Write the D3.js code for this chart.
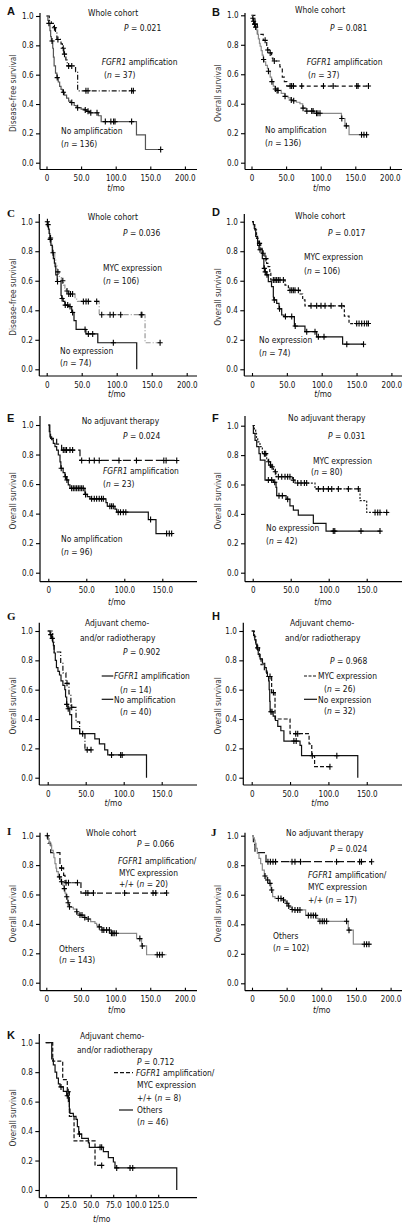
<!DOCTYPE html>
<html><head><meta charset="utf-8">
<script src="https://cdn.jsdelivr.net/npm/d3@7"></script>
<style>
html,body{margin:0;padding:0;background:#fff;}
svg{display:block;}
text{font-family:"DejaVu Sans Condensed","DejaVu Sans",sans-serif;font-stretch:condensed;fill:#111;}
</style></head><body>
<svg id="c" width="410" height="1227"></svg>
<script>
// ---------------- DATA ----------------
const yTickValues = [0, 0.2, 0.4, 0.6, 0.8, 1.0];
const xTicks200 = [0, 50, 100, 150, 200];
const xTicks150 = [0, 50, 100, 150];
const xTicks125 = [0, 25, 50, 75, 100, 125];

// Each step array: [time (mo), survival from that time on]; last entry = end of follow-up
const A_amp = [[0,1],[4,0.97],[7,0.95],[10,0.92],[13,0.89],[15,0.84],[21,0.81],[23,0.78],[25,0.74],[28,0.70],[30,0.66],[42,0.62],[45,0.49],[126,0.49]];
const A_amp_cens = [11.5,16.5,24.2,26,32,36.5,57,60,123,125.5];
const A_no = [[0,1],[2,0.97],[3,0.95],[5,0.90],[6,0.86],[7,0.83],[9,0.78],[10,0.72],[11,0.66],[13,0.61],[15,0.58],[17,0.55],[19,0.52],[21,0.50],[23,0.48],[26,0.46],[29,0.44],[32,0.42],[35,0.41],[40,0.39],[43,0.375],[50,0.365],[55,0.36],[58,0.35],[62,0.34],[75,0.32],[79,0.28],[130,0.19],[143,0.09],[165,0.09]];
const A_no_cens = [3.5,8,15.5,24.5,36.5,45,56,60,64,73,85,93,97,99,123,165];

const B_amp = [[0,1],[5,0.95],[8.5,0.87],[17,0.83],[22,0.78],[23,0.765],[26,0.745],[29,0.71],[31,0.69],[41,0.65],[44.5,0.58],[47.5,0.55],[51,0.52],[169,0.52]];
const B_amp_cens = [19.7,23.5,27,33,55.8,58,60.6,72.6,104,118,152,154,169];
const B_no = [[0,1],[1.5,0.98],[2.5,0.96],[4,0.94],[6,0.92],[7.5,0.90],[9,0.87],[10,0.84],[11.5,0.81],[12.5,0.79],[14,0.76],[15.5,0.73],[17,0.70],[18,0.685],[20.5,0.66],[23,0.64],[24.5,0.62],[27,0.58],[29,0.55],[31.5,0.52],[34,0.50],[37,0.49],[43,0.47],[48,0.45],[53,0.44],[57,0.425],[60,0.42],[65,0.41],[70,0.40],[74,0.37],[79,0.35],[91,0.335],[130,0.30],[135,0.25],[141,0.19],[169,0.19]];
const B_no_cens = [2,3,4.5,5,6,17.5,24.5,29.5,34.5,37,38.5,48.5,57.5,61,74.5,80,87,89,94,96,99,130.5,137,159,162.5,166.3];

const C_myc = [[0,1],[1.5,0.98],[3,0.95],[4,0.92],[5,0.89],[6,0.86],[7.5,0.83],[8.5,0.80],[10,0.78],[11.5,0.74],[13,0.70],[15,0.66],[18,0.63],[21,0.60],[24,0.57],[26,0.55],[28,0.53],[31,0.51],[40.5,0.475],[44,0.46],[75,0.37],[140.5,0.18],[162,0.18]];
const C_myc_cens = [1,2,5.5,16,23,29,31.5,34,37,52.4,56.2,59.5,71.4,78.6,90.5,95.2,105.7,135,136,162];
const C_no = [[0,1],[1,0.97],[2.5,0.95],[3.5,0.92],[4.5,0.88],[6,0.84],[8,0.79],[9.5,0.75],[11,0.72],[12,0.695],[13,0.64],[15,0.595],[20.5,0.50],[21.5,0.48],[23.5,0.46],[26,0.435],[31,0.425],[35.7,0.385],[39,0.33],[42,0.27],[56,0.24],[73,0.18],[128.6,0]];
const C_no_cens = [5,9,15.5,22,26.5,30,33.3,37,54.8,59.5,65.7,95.2];

const D_myc = [[0,1],[2,0.98],[4,0.944],[6.5,0.887],[9,0.853],[12.5,0.82],[14.5,0.786],[18.5,0.75],[21,0.718],[23,0.695],[25.5,0.65],[27,0.605],[47.4,0.57],[52.2,0.535],[69,0.51],[72.7,0.47],[76,0.43],[132.5,0.36],[139.2,0.31],[167,0.31]];
const D_myc_cens = [10.8,16,20,30.6,33,35.4,37.8,40.2,45,54.5,57,59.3,61.7,66.5,84.7,92.8,99,104.8,113.4,128.7,150.2,153.6,157.4,161.2,164.6,167];
const D_no = [[0,1],[2,0.98],[3.3,0.955],[5.3,0.90],[8,0.84],[10,0.81],[14.8,0.75],[17,0.684],[18.5,0.66],[20.5,0.64],[23.4,0.594],[28,0.56],[30.6,0.49],[31.2,0.47],[35.4,0.447],[38.8,0.41],[42.6,0.368],[46,0.357],[60.8,0.293],[76,0.255],[92.8,0.22],[130,0.17],[160,0.17]];
const D_no_cens = [11.5,17.7,19,21.5,32,39.5,48,57,62,78.5,90.4,95.2,103.3,136,160];

const E_amp = [[0,1],[2,0.955],[3,0.91],[11,0.87],[17.5,0.83],[41.7,0.76],[169,0.76]];
const E_amp_cens = [19.7,22,24,28.5,32,43.9,54,60.5,67,93,116,152,155,169];
const E_no = [[0,1],[1.3,0.955],[2.2,0.92],[4.4,0.90],[6.6,0.876],[8.8,0.853],[11,0.83],[13.2,0.797],[15.4,0.75],[16.5,0.707],[19.5,0.677],[21.9,0.65],[24,0.628],[26.3,0.594],[28.5,0.571],[48.2,0.53],[51.3,0.515],[54.8,0.50],[75.9,0.475],[77.6,0.45],[87.7,0.43],[89.9,0.41],[131.6,0.36],[141.7,0.265],[164,0.265]];
const E_no_cens = [17,22.5,24.5,30.7,32.9,35.1,37.3,39.5,41.7,43.9,46,49,57,60.5,63.6,67,70,72.4,81,83.3,85.5,92,95,98.7,102,134.6,155.7,159.2,162.3];

const F_myc = [[0,1],[2.2,0.97],[3.9,0.948],[5,0.92],[6.6,0.89],[9.6,0.857],[12.7,0.81],[18.4,0.766],[20.6,0.755],[22.8,0.732],[25,0.72],[27.2,0.698],[29.4,0.687],[30.7,0.653],[52.2,0.63],[55.7,0.61],[82,0.57],[141.2,0.49],[150,0.41],[180.7,0.41]];
const F_myc_cens = [15.4,17.1,21,23.5,25.5,29.8,33.8,38.2,42.5,46,49,53.5,59.2,63.6,68,71,86.4,93,99.6,104,112.7,125.9,139,161,164.5,167.5,176.3];
const F_no = [[0,1],[0.9,0.948],[3.1,0.90],[5.3,0.857],[8.3,0.81],[10,0.766],[16.2,0.63],[27.2,0.615],[30.7,0.58],[31.6,0.524],[43.9,0.50],[49,0.454],[53.5,0.426],[60,0.392],[79.8,0.336],[96.5,0.283],[168,0.283]];
const F_no_cens = [20.6,25,29,34.6,39,46,106,108,142.5,167.5];

const G_amp = [[0,1],[6.6,0.93],[8.3,0.857],[17.1,0.786],[20,0.714],[24,0.643],[28,0.571],[30.5,0.48],[37.3,0.38],[42,0.30],[49,0.19],[57,0.19]];
const G_amp_cens = [25.4,31.6,52,57];
const G_no = [[0,1],[3,0.975],[5,0.95],[6.5,0.925],[7.5,0.90],[8.5,0.85],[10,0.80],[11.5,0.75],[13.5,0.725],[15.5,0.70],[17.5,0.66],[20,0.63],[22.5,0.60],[23.5,0.55],[25,0.50],[26.5,0.47],[29,0.43],[31.5,0.335],[42,0.30],[62,0.265],[68,0.23],[75,0.19],[79,0.155],[130,0]];
const G_no_cens = [4,6,25,27,46,84,96,98];

const H_myc = [[0,1],[3.5,0.96],[5.2,0.92],[6.5,0.885],[10,0.81],[12.2,0.77],[16.5,0.73],[19.6,0.69],[26,0.58],[30.4,0.40],[50,0.30],[74.8,0.23],[78.3,0.15],[82,0.075],[102,0.075]];
const H_myc_cens = [7.8,23.9,28.3,57.4,60,79,102];
const H_no = [[0,1],[2.5,0.97],[4,0.94],[5.5,0.91],[7,0.875],[8.5,0.84],[11,0.81],[14,0.78],[17,0.75],[19,0.72],[20.5,0.69],[22,0.66],[22.8,0.60],[23.5,0.52],[24,0.45],[28,0.42],[31,0.39],[34,0.35],[38,0.32],[42,0.25],[63,0.22],[65,0.15],[138.3,0]];
const H_no_cens = [25,26.5,55,58,111];

const I_pos = [[0,1],[2.5,0.95],[6.3,0.885],[19.7,0.78],[25,0.73],[27,0.68],[50,0.61],[173.6,0.61]];
const I_pos_cens = [22,28.5,32,45,57,60,68,113,154,158,173.6];
const I_oth = [[0,1],[2.9,0.98],[4,0.96],[5.3,0.936],[7.7,0.90],[10,0.88],[11,0.85],[12.5,0.81],[14,0.78],[14.9,0.755],[17.3,0.72],[20.7,0.687],[23.6,0.664],[25.5,0.64],[27,0.61],[28.4,0.585],[30.8,0.544],[32.7,0.517],[35.6,0.512],[39,0.50],[43.8,0.483],[44.7,0.47],[48.6,0.46],[53.4,0.444],[57.2,0.433],[64,0.415],[70.2,0.404],[72.6,0.392],[75,0.38],[79.8,0.358],[91.8,0.336],[130.3,0.30],[137.5,0.25],[144.7,0.19],[173.6,0.19]];
const I_oth_cens = [1.5,19,22,26,29.5,31.5,33.5,44,48.6,51.5,55.5,60.5,76.5,80.5,83,87,91,94,96,98,101,135,138.5,160,163.5,167.3];

const J_pos = [[0,1],[2,0.94],[4.3,0.885],[20.2,0.824],[172.6,0.824]];
const J_pos_cens = [23,26.5,30.3,34,57.7,62,70,122,155.3,158,172.6];
const J_oth = [[0,1],[2,0.985],[3.4,0.97],[4.3,0.948],[5.8,0.914],[7.7,0.88],[10.1,0.846],[12.5,0.81],[14.9,0.767],[17.8,0.727],[20.2,0.70],[25,0.677],[27.4,0.632],[29.8,0.587],[33.2,0.575],[45.2,0.564],[47.6,0.553],[50,0.542],[52.4,0.524],[54.8,0.515],[57.2,0.50],[59.6,0.497],[77.4,0.46],[93.3,0.44],[95.7,0.42],[138.9,0.36],[146.2,0.265],[172.6,0.265]];
const J_oth_cens = [18.75,22.6,26,28.4,38,41.8,45.5,50.5,53,58,62,65.9,69.2,81.3,85.1,88.5,91.8,98,101.4,104.3,107.7,136.5,140,162,165.4,168.8];

const K_pos = [[0,1],[7.8,0.875],[18.9,0.75],[24,0.667],[26.3,0.50],[31.5,0.333],[54.8,0.167],[62.2,0.167]];
const K_pos_cens = [25,62.2];
const K_oth = [[0,1],[6.7,0.89],[8.5,0.85],[10.4,0.80],[12.2,0.76],[14.1,0.72],[15.9,0.70],[19.6,0.67],[23.3,0.64],[25.2,0.60],[26.3,0.55],[27,0.52],[30.7,0.50],[33.7,0.48],[35.2,0.43],[36.7,0.38],[40,0.35],[47.4,0.32],[48.5,0.29],[64.1,0.26],[69.6,0.22],[75.2,0.19],[77,0.15],[145.6,0]];
const K_oth_cens = [17,24,37.5,60.4,62.2,78.9,93.7,96.7];

// ---------------- LAYOUT ----------------
const GRAY = "#8a8a8a";
const panels = [
 {L:"A",lx:7,ly:15,ax:40,t0:46.5,ppu:0.692,s1:16,s0:162.7,ay:169.5,top:13,right:197,ticks:xTicks200,yt:"Disease-free survival",ytx:12.5,tx:116,ty:191,
  series:[{d:A_amp,c:A_amp_cens,col:"#111",dash:"5,2,1,2"},{d:A_no,c:A_no_cens,col:"#555",dash:null}],
  texts:[[88,15.5,[["Whole cohort"]]],[124,31,[["P",1],[" = 0.021"]]],[101.7,65,[["FGFR1",1],[" amplification"]]],[104,78,[["("],["n",1],[" = 37)"]]],[61,134,[["No amplification"]]],[61,147,[["("],["n",1],[" = 136)"]]]]},
 {L:"B",lx:212,ly:16,ax:245,t0:251.5,ppu:0.692,s1:15.3,s0:162.7,ay:169.5,top:13,right:402,ticks:xTicks200,yt:"Overall survival",ytx:217.5,tx:321.7,ty:191,
  series:[{d:B_amp,c:B_amp_cens,col:"#111",dash:"4,3"},{d:B_no,c:B_no_cens,col:GRAY,dash:null}],
  texts:[[295,13,[["Whole cohort"]]],[330,31,[["P",1],[" = 0.081"]]],[306.7,65,[["FGFR1",1],[" amplification"]]],[308,78,[["("],["n",1],[" = 37)"]]],[265,132.5,[["No amplification"]]],[265,146,[["("],["n",1],[" = 136)"]]]]},
 {L:"C",serif:1,lx:7,ly:216.7,ax:39.3,t0:46.7,ppu:0.7,s1:221.7,s0:369.3,ay:376,top:214,right:197,ticks:xTicks200,yt:"Disease-free survival",ytx:12.5,tx:116.7,ty:397,
  series:[{d:C_myc,c:C_myc_cens,col:"#999",dash:"5,2,1,2"},{d:C_no,c:C_no_cens,col:"#111",dash:null}],
  texts:[[87.7,219.5,[["Whole cohort"]]],[123,236,[["P",1],[" = 0.036"]]],[103,271,[["MYC expression"]]],[103,283.5,[["("],["n",1],[" = 106)"]]],[60,353.5,[["No expression"]]],[60,366,[["("],["n",1],[" = 74)"]]]]},
 {L:"D",lx:212,ly:216,ax:244.3,t0:252,ppu:0.697,s1:221.7,s0:369.3,ay:376,top:214,right:402,ticks:xTicks200,yt:"Overall survival",ytx:217.5,tx:323,ty:397,
  series:[{d:D_myc,c:D_myc_cens,col:"#111",dash:"3,2"},{d:D_no,c:D_no_cens,col:"#111",dash:null}],
  texts:[[295,218.5,[["Whole cohort"]]],[328,236,[["P",1],[" = 0.017"]]],[304,260,[["MYC expression"]]],[304,273.5,[["("],["n",1],[" = 106)"]]],[259,343,[["No expression"]]],[259,356,[["("],["n",1],[" = 74)"]]]]},
 {L:"E",lx:7,ly:422,ax:40,t0:48.3,ppu:0.76,s1:425,s0:572.7,ay:581.7,top:416,right:197,ticks:xTicks150,yt:"Overall survival",ytx:12.5,tx:116.7,ty:605,
  series:[{d:E_amp,c:E_amp_cens,col:"#111",dash:"8,3"},{d:E_no,c:E_no_cens,col:"#111",dash:null}],
  texts:[[81.7,423.5,[["No adjuvant therapy"]]],[123,439,[["P",1],[" = 0.024"]]],[103,474,[["FGFR1",1],[" amplification"]]],[103,487,[["("],["n",1],[" = 23)"]]],[61,542,[["No amplification"]]],[61,555,[["("],["n",1],[" = 96)"]]]]},
 {L:"F",lx:212,ly:422,ax:245,t0:252.7,ppu:0.76,s1:425.7,s0:572.7,ay:581.7,top:416,right:402,ticks:xTicks150,yt:"Overall survival",ytx:217.5,tx:323,ty:605,
  series:[{d:F_myc,c:F_myc_cens,col:"#222",dash:"2,1.5"},{d:F_no,c:F_no_cens,col:"#111",dash:null}],
  texts:[[288,421,[["No adjuvant therapy"]]],[328,439,[["P",1],[" = 0.031"]]],[313,464,[["MYC expression"]]],[311,474.7,[["("],["n",1],[" = 80)"]]],[266,531,[["No expression"]]],[266,544,[["("],["n",1],[" = 42)"]]]]},
 {L:"G",serif:1,lx:7,ly:620,ax:39.3,t0:47.7,ppu:0.76,s1:631,s0:777.7,ay:785,top:622.7,right:197,ticks:xTicks150,yt:"Overall survival",ytx:12.5,tx:113.3,ty:806,
  series:[{d:G_amp,c:G_amp_cens,col:"#111",dash:"5,2,1,2"},{d:G_no,c:G_no_cens,col:"#111",dash:null}],
  legend:[[101.7,113.3,676,null],[101.7,113.3,699.3,null]],
  texts:[[85,625.5,[["Adjuvant chemo-"]]],[80,641,[["and/or radiotherapy"]]],[123,655,[["P",1],[" = 0.902"]]],[114,679,[["FGFR1",1],[" amplification"]]],[120,692.5,[["("],["n",1],[" = 14)"]]],[114,702.5,[["No amplification"]]],[120,714.7,[["("],["n",1],[" = 40)"]]]]},
 {L:"H",lx:212,ly:620,ax:243.3,t0:251.7,ppu:0.767,s1:631,s0:777.7,ay:785,top:622.7,right:402,ticks:xTicks150,yt:"Overall survival",ytx:217.5,tx:320,ty:806,
  series:[{d:H_myc,c:H_myc_cens,col:"#111",dash:"4,2"},{d:H_no,c:H_no_cens,col:"#111",dash:null}],
  legend:[[304,317,676,"3,1.5"],[304,317,699.3,null]],
  texts:[[290,625.5,[["Adjuvant chemo-"]]],[285,641,[["and/or radiotherapy"]]],[330,664,[["P",1],[" = 0.968"]]],[318,679,[["MYC expression"]]],[324,691.5,[["("],["n",1],[" = 26)"]]],[318,702.5,[["No expression"]]],[324,714,[["("],["n",1],[" = 32)"]]]]},
 {L:"I",serif:1,lx:7,ly:835,ax:40,t0:46.3,ppu:0.693,s1:835.7,s0:982.7,ay:990.7,top:832.7,right:197,ticks:xTicks200,yt:"Overall survival",ytx:12.5,tx:116.7,ty:1013,
  series:[{d:I_pos,c:I_pos_cens,col:"#111",dash:"6,3"},{d:I_oth,c:I_oth_cens,col:GRAY,dash:null}],
  texts:[[86,835.7,[["Whole cohort"]]],[137,846.5,[["P",1],[" = 0.066"]]],[118,864,[["FGFR1",1],["  amplification/"]]],[119,876,[["MYC expression"]]],[119,886.7,[["+/+ ("],["n",1],[" = 20)"]]],[59,951.5,[["Others"]]],[59,963,[["("],["n",1],[" = 143)"]]]]},
 {L:"J",serif:1,lx:211,ly:836,ax:245,t0:252,ppu:0.693,s1:835.7,s0:983.3,ay:990.7,top:832.7,right:402,ticks:xTicks200,yt:"Overall survival",ytx:217.5,tx:321.7,ty:1013,
  series:[{d:J_pos,c:J_pos_cens,col:"#111",dash:"8,3"},{d:J_oth,c:J_oth_cens,col:GRAY,dash:null}],
  texts:[[286,835.7,[["No adjuvant therapy"]]],[330,851.5,[["P",1],[" = 0.024"]]],[308,877.5,[["FGFR1",1],[" amplification/"]]],[308,890,[["MYC expression"]]],[308,902.5,[["+/+ ("],["n",1],[" = 17)"]]],[273,938.5,[["Others"]]],[273,950.5,[["("],["n",1],[" = 102)"]]]]},
 {L:"K",lx:7,ly:1039,ax:39.3,t0:45.7,ppu:0.9,s1:1042.7,s0:1190,ay:1197.7,top:1034,right:197,ticks:xTicks125,yt:"Overall survival",ytx:12.5,tx:101.7,ty:1221.5,tp:5,
  series:[{d:K_pos,c:K_pos_cens,col:"#111",dash:"4,2"},{d:K_oth,c:K_oth_cens,col:"#111",dash:null}],
  legend:[[114,133,1072.7,"4,2"],[119,133,1110,null]],
  texts:[[80,1039,[["Adjuvant chemo-"]]],[77,1052.5,[["and/or radiotherapy"]]],[137,1065,[["P",1],[" = 0.712"]]],[136,1075.5,[["FGFR1",1],[" amplification/"]]],[137,1088,[["MYC expression"]]],[137,1101,[["+/+ ("],["n",1],[" = 8)"]]],[137,1113,[["Others"]]],[137,1125,[["("],["n",1],[" = 46)"]]]]}
];

// ---------------- DRAW ----------------
const svg = d3.select("#c");
const FS = 8.4;
const TFS = 8;
const fmtY = d3.format(".1f");
const fmtX = d => d === 0 ? "0" : d3.format(".1f")(d);

function survAt(steps, t){ let s = steps[0][1]; for (const p of steps){ if (p[0] <= t) s = p[1]; else break; } return s; }

panels.forEach(p => {
  const g = svg.append("g");
  const x = d3.scaleLinear().domain([0, 100]).range([p.t0, p.t0 + 100 * p.ppu]);
  const y = d3.scaleLinear().domain([0, 1]).range([p.s0, p.s1]);

  // axis lines
  g.append("line").attr("x1", p.ax).attr("x2", p.ax).attr("y1", p.top).attr("y2", p.ay).attr("stroke", "#000").attr("stroke-width", 1.2);
  g.append("line").attr("x1", p.ax).attr("x2", p.right).attr("y1", p.ay).attr("y2", p.ay).attr("stroke", "#000").attr("stroke-width", 1.2);

  // y axis ticks & labels
  const ya = d3.axisLeft(y).tickValues(yTickValues).tickFormat(fmtY).tickSize(4).tickPadding(2.5);
  const yg = g.append("g").attr("transform", `translate(${p.ax},0)`).call(ya);
  yg.select(".domain").remove();
  yg.selectAll("line").attr("stroke", "#000").attr("stroke-width", 1.1);
  yg.selectAll("text").attr("font-size", TFS).attr("font-family", null).style("fill", "#111");

  // x axis ticks (inward) & labels
  const xa = d3.axisBottom(x).tickValues(p.ticks).tickFormat(fmtX).tickSize(-3).tickPadding(p.tp || 6);
  const xg = g.append("g").attr("transform", `translate(0,${p.ay})`).call(xa);
  xg.select(".domain").remove();
  xg.selectAll("line").attr("stroke", "#000").attr("stroke-width", 1.1);
  xg.selectAll("text").attr("font-size", TFS).attr("font-family", null).style("fill", "#111");

  // curves
  const line = d3.line().x(d => x(d[0])).y(d => y(d[1])).curve(d3.curveStepAfter);
  p.series.forEach(s => {
    g.append("path").attr("d", line(s.d)).attr("fill", "none").attr("stroke", s.col)
      .attr("stroke-width", 1.2).attr("stroke-dasharray", s.dash);
  });
  // censor marks
  p.series.forEach(s => {
    s.c.forEach(t => {
      const cx = x(t), cy = y(survAt(s.d, t));
      g.append("path").attr("d", `M${cx-2.6},${cy}H${cx+2.6}M${cx},${cy-3}V${cy+3}`)
        .attr("stroke", "#000").attr("stroke-width", 1.1);
    });
  });

  // legend samples
  (p.legend || []).forEach(l => {
    g.append("line").attr("x1", l[0]).attr("x2", l[1]).attr("y1", l[2]).attr("y2", l[2])
      .attr("stroke", "#111").attr("stroke-width", 1.2).attr("stroke-dasharray", l[3]);
  });

  // annotations
  p.texts.forEach(tx => {
    const t = g.append("text").attr("x", tx[0]).attr("y", tx[1]).attr("font-size", FS);
    tx[2].forEach(part => {
      t.append("tspan").text(part[0]).attr("font-style", part[1] ? "italic" : null);
    });
  });

  // y title
  const ymid = (p.top + p.ay) / 2 + 2;
  g.append("text").attr("transform", `translate(${p.ytx + 3},${ymid}) rotate(-90)`)
    .attr("text-anchor", "middle").attr("font-size", 8.2).attr("font-stretch", "normal")
    .style("font-family", '"DejaVu Sans", sans-serif').style("fill", "#333").text(p.yt);

  // x title
  const xt = g.append("text").attr("x", p.tx).attr("y", p.ty).attr("text-anchor", "middle").attr("font-size", FS);
  xt.append("tspan").attr("font-style", "italic").text("t");
  xt.append("tspan").text("/mo");

  // panel letter
  g.append("text").attr("x", p.lx).attr("y", p.ly).attr("font-size", 11).attr("font-weight", "bold")
    .style("font-family", p.serif ? '"Liberation Serif", serif' : '"Liberation Sans", Arial, sans-serif')
    .text(p.L);
});
</script>
</body></html>
